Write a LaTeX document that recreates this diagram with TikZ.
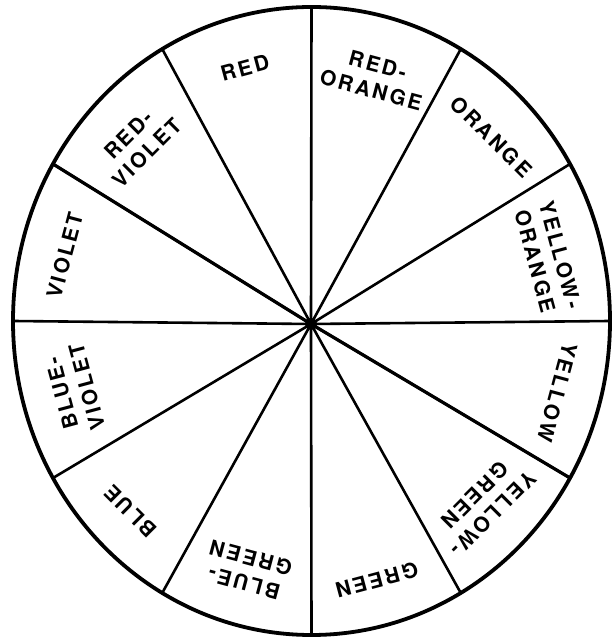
\documentclass[tikz,border=0pt]{standalone}
\usepackage{fontspec}
\usetikzlibrary{calc}
\newfontfamily\labfont[LetterSpace=12]{TeX Gyre Heros}
\begin{document}
\begin{tikzpicture}[x=1bp,y=1bp,
  spoke/.style={line width=2.6bp},
  rim/.style={line width=3.8bp},
  lab/.style={font=\labfont\bfseries\fontsize{21}{26}\selectfont, align=center, inner sep=0pt}]
\useasboundingbox (0,0) rectangle (613,638);
\coordinate (E) at (311.5,317);
\coordinate (C) at (311,314);
\draw[rim] (E) ellipse [x radius=298.5, y radius=314];
\foreach \a [count=\i] in {0,30,...,330}{
  \coordinate (r\i) at ($(E)+(\a:298.5 and 314)$);
  \draw[spoke] (C) -- (r\i);
}
\draw[line width=3.2bp] (C) -- (r6);
\draw[line width=3.2bp] (C) -- (r12);
\fill (C) circle[radius=6];
% single-line labels
\node[lab, rotate=15]   (red)    at ($(C)+(105:255 and 265)$) {RED};
\node[lab, rotate=-45]  (orange) at ($(C)+(45:255 and 265)$)  {ORANGE};
\node[lab, rotate=-105] (yellow) at ($(C)+(-15:255 and 265)$) {YELLOW};
\node[lab, rotate=-165] (green)  at ($(C)+(-75:255 and 265)$) {GREEN};
\node[lab, rotate=135]  (blue)   at ($(C)+(-135:255 and 265)$) {BLUE};
\node[lab, rotate=75]   (violet) at ($(C)+(165:255 and 265)$) {VIOLET};
% two-line labels
\node[lab, rotate=-15]  (ro) at ($(C)+(75:245 and 255)$)   {RED-\\ORANGE};
\node[lab, rotate=-75]  (yo) at ($(C)+(15:245 and 255)$)   {YELLOW-\\ORANGE};
\node[lab, rotate=-135] (yg) at ($(C)+(-45:245 and 255)$)  {YELLOW-\\GREEN};
\node[lab, rotate=165]  (bg) at ($(C)+(-105:245 and 255)$) {BLUE-\\GREEN};
\node[lab, rotate=105]  (bv) at ($(C)+(-165:245 and 255)$) {BLUE-\\VIOLET};
\node[lab, rotate=45]   (rv) at ($(C)+(135:245 and 255)$)  {RED-\\VIOLET};
\end{tikzpicture}
\end{document}
